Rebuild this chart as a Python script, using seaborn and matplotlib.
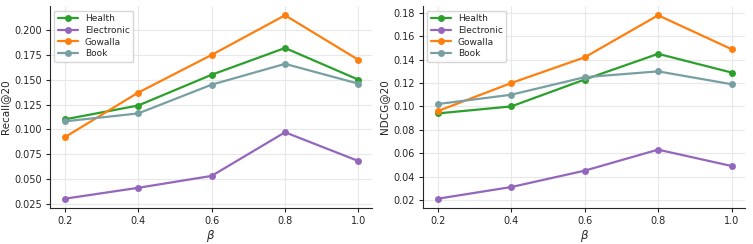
import matplotlib
matplotlib.use("Agg")
import matplotlib.pyplot as plt
import seaborn as sns
import pandas as pd

beta = [0.2, 0.4, 0.6, 0.8, 1.0]
series_names = ["Health", "Electronic", "Gowalla", "Book"]
recall_health = [0.110, 0.124, 0.155, 0.182, 0.150]
recall_electronic = [0.030, 0.041, 0.053, 0.097, 0.068]
recall_gowalla = [0.092, 0.137, 0.175, 0.215, 0.170]
recall_book = [0.108, 0.116, 0.145, 0.166, 0.146]
ndcg_health = [0.094, 0.100, 0.123, 0.145, 0.129]
ndcg_electronic = [0.021, 0.031, 0.045, 0.063, 0.049]
ndcg_gowalla = [0.096, 0.120, 0.142, 0.178, 0.149]
ndcg_book = [0.102, 0.110, 0.125, 0.130, 0.119]
colors = ["#2ca02c", "#9467bd", "#ff7f0e", "#78a0a3"]

sns.set_style("ticks")
plt.rcParams['font.family'] = ['DejaVu Sans']

def make_df(vals):
    rows = []
    for name, v in zip(series_names, vals):
        for b, y in zip(beta, v):
            rows.append({"beta": b, "value": y, "series": name})
    return pd.DataFrame(rows)

df_r = make_df([recall_health, recall_electronic, recall_gowalla, recall_book])
df_n = make_df([ndcg_health, ndcg_electronic, ndcg_gowalla, ndcg_book])

fig, axes = plt.subplots(1, 2, figsize=(7.53, 2.44), dpi=100)
for ax, df, ylabel in zip(axes, [df_r, df_n], ["Recall@20", "NDCG@20"]):
    sns.lineplot(data=df, x="beta", y="value", hue="series", palette=colors,
                 marker="o", markersize=5, markeredgewidth=0, linewidth=1.6, ax=ax)
    ax.set_xlabel(r"$\beta$", fontsize=8.5, labelpad=2)
    ax.set_ylabel(ylabel, fontsize=7.5, labelpad=3)
    ax.set_xticks(beta)
    ax.tick_params(labelsize=7, length=3, pad=2.5)
    ax.grid(True, color="#e8e8e8", linewidth=0.8)
    ax.set_axisbelow(True)
    sns.despine(ax=ax)
    leg = ax.legend(loc="upper left", fontsize=6.5, frameon=True, handlelength=2.2,
                    borderpad=0.4, labelspacing=0.3)
    leg.get_frame().set_edgecolor("#cccccc")
    ax.set_xlim(0.159, 1.038)

axes[0].set_yticks([0.025, 0.050, 0.075, 0.100, 0.125, 0.150, 0.175, 0.200])
axes[0].set_yticklabels(["0.025", "0.050", "0.075", "0.100", "0.125", "0.150", "0.175", "0.200"])
axes[1].set_yticks([0.02, 0.04, 0.06, 0.08, 0.10, 0.12, 0.14, 0.16, 0.18])

plt.subplots_adjust(left=0.066, right=0.99, top=0.975, bottom=0.148, wspace=0.156)
fig.savefig("out.png", dpi=100)
